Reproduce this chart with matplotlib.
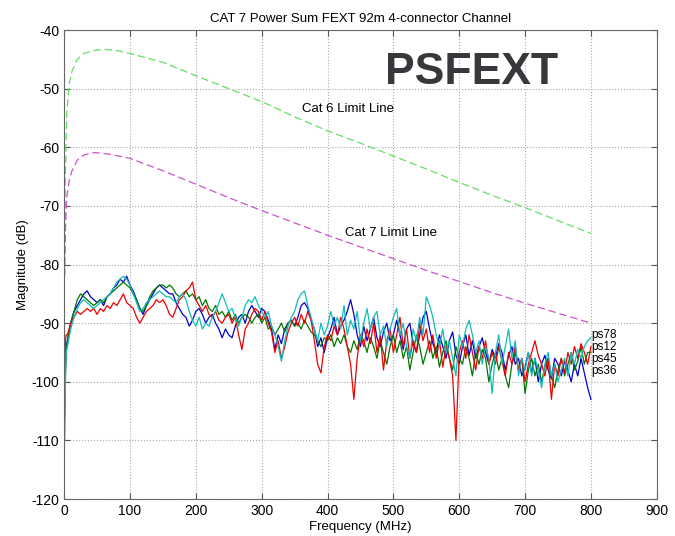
import numpy as np
import matplotlib
matplotlib.use("Agg")
from matplotlib import pyplot as plt

plt.rcParams['font.family'] = ['Liberation Sans', 'DejaVu Sans']
plt.rcParams['axes.unicode_minus'] = False

# Limitné čiary (Cat 6 / Cat 7)
cat6_freq = [1, 2, 4, 8, 12, 20, 30, 45, 60, 80, 100, 150, 200, 250, 300, 350, 400,
             450, 500, 550, 600, 650, 700, 750, 800]
cat6_db = [-78, -65, -54, -49, -47, -45, -44, -43.5, -43.3, -43.5, -44, -45.5, -47.8, -50,
           -52.2, -54.8, -57.2, -59.3, -61.5, -63.7, -66, -68.2, -70.3, -72.5, -74.7]

cat7_freq = [1, 2, 4, 8, 12, 20, 30, 47, 70, 100, 150, 200, 250, 300, 350, 400, 450,
             500, 550, 600, 650, 700, 750, 800]
cat7_db = [-82, -74, -68.5, -65.5, -64, -62.2, -61.3, -60.9, -61.2, -61.9, -64, -66.3, -68.6,
           -70.8, -72.9, -75, -77, -79, -81, -82.9, -84.8, -86.6, -88.3, -90]

# Frekvencie meraných párov (MHz)
freq = [1, 2, 3] + list(range(5, 801, 5))

ps12 = [-104, -97, -94,
        -93, -90, -88, -87, -86, -85, -84.5, -85.5, -86, -86.5,
        -86, -87, -85.5, -85, -84, -83.5, -82.5, -83, -82, -83.5,
        -84.5, -86, -87.5, -88.5, -87, -86, -85, -84, -83.5, -84,
        -84.5, -85, -85, -86.5, -87.5, -88.5, -89, -90.5, -89.5, -88,
        -87.5, -88.5, -90, -89, -88.5, -90, -91, -92.5, -91, -92,
        -92.5, -90.5, -89, -88.5, -90, -88, -87, -88, -89, -87.5,
        -88, -89.5, -91, -94.5, -92, -93.5, -91, -90, -89.5, -90.5,
        -89, -87, -86.5, -87.5, -89.5, -91, -94, -92.5, -95, -92.5,
        -91, -89, -92, -90.5, -89.5, -88, -86, -88.5, -92, -94,
        -90.5, -93, -91, -89, -92.5, -94, -91.5, -90, -93, -92,
        -89.5, -92, -94.5, -91, -90, -93.5, -95, -92, -89, -88,
        -91, -93.5, -95, -92, -94, -96, -93, -91.5, -95.5, -97,
        -94, -92, -95.5, -93, -96, -94, -92.5, -95, -97, -94.5,
        -96, -93.5, -95, -98, -95.5, -94, -97, -96, -99, -97.5,
        -95, -98.5, -96, -100, -97, -95.5, -98, -99.5, -96, -97,
        -99, -96.5, -98, -100, -97, -99, -96, -98.5, -101, -103]

ps36 = [-106, -99, -95,
        -93, -90, -88, -86, -85, -85.5, -86, -86.5, -87, -86.5,
        -86, -86.5, -85.5, -85, -84.5, -84, -83.5, -83, -83.5, -84,
        -85, -86, -87.5, -88, -87, -85.5, -84.5, -84, -83.5, -83.5,
        -84, -83.5, -84, -85, -85.5, -85, -84.5, -85.5, -85, -86,
        -85.5, -87, -86, -87.5, -88, -87, -88.5, -88, -89, -88,
        -89.5, -88.5, -90, -89, -88.5, -89, -90, -89, -88.5, -90,
        -89, -91, -90.5, -92, -91, -90, -91.5, -90, -89.5, -90.5,
        -90, -91, -89.5, -90.5, -91.5, -92, -93, -94, -92.5, -93,
        -92, -94, -92.5, -93.5, -92, -94, -95, -93, -94.5, -92,
        -93, -95, -92.5, -94, -96, -93, -95, -97, -94, -92,
        -95, -93, -96, -94, -98, -95, -92, -94, -97, -95,
        -93, -96, -94, -97.5, -95, -93, -96, -98, -94, -96,
        -97, -94, -96, -99, -95, -97, -94.5, -96, -100, -97,
        -95, -98, -96, -99, -101, -97, -95, -98, -96, -102,
        -98, -96, -99, -97, -100, -97.5, -96, -99, -101, -98,
        -96, -99, -97, -95, -98, -96.5, -94, -97, -95, -95]

ps45 = [-96, -93, -92,
        -92, -90, -89, -88, -88.5, -88, -87.5, -88, -87.5, -88.5,
        -87.5, -88, -87, -87.5, -86.5, -87, -86, -85, -86.5, -87,
        -87.5, -89, -90, -89, -88, -87.5, -87, -86, -86.5, -86,
        -87, -88.5, -89, -87.5, -86, -85.5, -84.5, -84, -83, -86,
        -87, -88, -87, -88.5, -89, -88, -89.5, -90, -89, -88.5,
        -90, -89, -92, -94.5, -91, -90, -88.5, -87.5, -88, -89.5,
        -88, -90, -91.5, -95, -93, -96, -94, -91.5, -90, -89,
        -90.5, -88.5, -90, -88, -89.5, -93, -97, -98.5, -94, -92,
        -93, -90.5, -92, -89, -91, -94, -97, -103, -96, -92,
        -94, -91, -93.5, -90, -95, -92, -98, -93, -91, -95,
        -92, -89, -94, -91, -96, -93, -95, -90, -93, -91,
        -95, -92, -96, -93, -97.5, -94, -96, -99, -110, -95,
        -93, -96, -92, -95, -98, -94, -96, -93, -97, -95,
        -97, -94, -96.5, -99, -95, -97, -94, -98, -96, -100,
        -97, -95, -93, -95.5, -97, -99, -96, -103, -97, -99,
        -96, -98.5, -95, -97, -94, -96, -93.5, -95, -97, -94]

ps78 = [-110, -100, -95,
        -94, -91, -89, -87.5, -86.5, -86, -86.5, -87, -87.5, -87,
        -86.5, -86, -85.5, -85, -84, -83, -82.5, -82, -82.5, -83.5,
        -85, -86.5, -88, -87.5, -86.5, -86, -85.5, -85, -84.5, -85,
        -85.5, -85.5, -86, -86.5, -85.5, -85, -86, -88, -89.5, -90.5,
        -89, -91, -90, -90.5, -89, -88, -86.5, -85, -86.5, -88,
        -87.5, -89, -90.5, -89, -87, -86, -86.5, -85.5, -87, -88,
        -89, -88, -90.5, -92, -94, -96.5, -93, -90.5, -89, -88,
        -86, -85, -84.5, -87, -89, -91, -93, -90, -92, -90.5,
        -88, -90.5, -89, -91, -87, -92, -89.5, -91, -88, -93,
        -90, -87.5, -91, -89, -88, -92, -90.5, -94, -91, -89,
        -87.5, -92, -90, -94, -96, -91, -93, -89, -92, -85.5,
        -87, -89, -92, -94, -91, -95, -93, -96, -99, -92,
        -94, -91, -89.5, -92, -95, -93, -97, -94, -96, -102,
        -95, -92, -97, -94, -91, -96, -93, -99, -96, -98,
        -95, -99, -96, -98, -101, -97, -95, -99, -97, -100,
        -98, -96, -99, -95, -97, -94.5, -96, -94, -93, -92.5]

label_names = ['ps78', 'ps12', 'ps45', 'ps36']
label_y = [-92.1, -94.1, -96.1, -98.1]

fig = plt.figure(figsize=(6.75, 5.36), dpi=100)
ax = fig.add_axes([0.095, 0.069, 0.878, 0.875])

ax.plot(cat6_freq, cat6_db, color='#66dd66', linestyle='--', dashes=(6, 3), lw=0.9)
ax.plot(cat7_freq, cat7_db, color='#cc55cc', linestyle='--', dashes=(6, 3), lw=0.9)

ax.plot(freq, ps12, color='#0000cc', lw=0.9)
ax.plot(freq, ps36, color='#007700', lw=0.9)
ax.plot(freq, ps45, color='#ee0000', lw=0.9)
ax.plot(freq, ps78, color='#11bbbb', lw=0.9)

for name, y in zip(label_names, label_y):
    ax.text(801, y, name, fontsize=8.5, va='center', ha='left')

ax.text(361, -53.5, 'Cat 6 Limit Line', fontsize=9.5, va='center')
ax.text(426, -74.6, 'Cat 7 Limit Line', fontsize=9.5, va='center')
ax.text(488, -47.3, 'PSFEXT', fontsize=32, fontweight='bold', color='#38383c', va='center')

ax.set_xlim(0, 900)
ax.set_ylim(-120, -40)
ax.set_xticks(range(0, 901, 100))
ax.set_yticks(range(-120, -39, 10))
ax.grid(True, linestyle=':', color='#aaaaaa', lw=0.8)
ax.tick_params(direction='in', top=True, right=True, length=4, labelsize=10, color='#555555')
for s in ax.spines.values():
    s.set_color('#666666')

ax.set_xlabel('Frequency (MHz)', fontsize=9.5, labelpad=2)
ax.set_ylabel('Magnitude (dB)', fontsize=9.5)
ax.yaxis.set_label_coords(-0.059, 0.5)
ax.set_title('CAT 7 Power Sum FEXT 92m 4-connector Channel', fontsize=9.5, pad=6)

fig.savefig('out.png', dpi=100)
